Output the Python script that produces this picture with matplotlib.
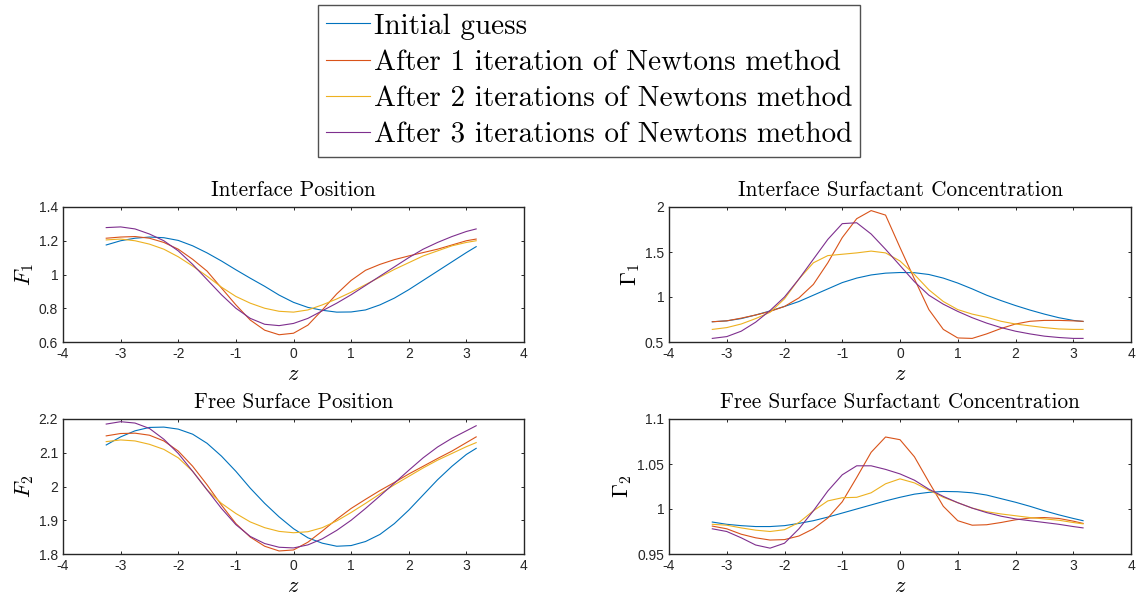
import matplotlib
matplotlib.use("Agg")
import matplotlib.pyplot as plt
from matplotlib.ticker import FormatStrFormatter

plt.rcParams['mathtext.fontset'] = 'cm'
plt.rcParams['axes.unicode_minus'] = False

# grid of z values the curves were read at
z = [-3.25, -3.0, -2.75, -2.5, -2.25, -2.0, -1.75, -1.5, -1.25, -1.0, -0.75, -0.5, -0.25,
     0.0, 0.25, 0.5, 0.75, 1.0, 1.25, 1.5, 1.75, 2.0, 2.25, 2.5, 2.75, 3.0, 3.17]

labels = ['Initial guess',
          'After 1 iteration of Newtons method',
          'After 2 iterations of Newtons method',
          'After 3 iterations of Newtons method']
colors = ['#0072BD', '#D95319', '#EDB120', '#7E2F8E']

# Interface position F1
f1_init = [1.175, 1.20, 1.215, 1.222, 1.218, 1.202, 1.17, 1.128, 1.08, 1.028, 0.978, 0.93, 0.878,
           0.835, 0.805, 0.788, 0.777, 0.778, 0.79, 0.82, 0.86, 0.91, 0.965, 1.02, 1.075, 1.13, 1.165]
f1_it1 = [1.215, 1.222, 1.225, 1.215, 1.19, 1.15, 1.09, 1.02, 0.92, 0.82, 0.73, 0.67, 0.643,
          0.652, 0.70, 0.79, 0.885, 0.965, 1.025, 1.06, 1.088, 1.11, 1.13, 1.15, 1.175, 1.20, 1.21]
f1_it2 = [1.205, 1.21, 1.20, 1.18, 1.15, 1.105, 1.05, 0.99, 0.925, 0.87, 0.83, 0.80, 0.782,
          0.777, 0.79, 0.82, 0.855, 0.895, 0.94, 0.985, 1.03, 1.07, 1.11, 1.14, 1.17, 1.19, 1.20]
f1_it3 = [1.278, 1.282, 1.27, 1.24, 1.20, 1.14, 1.06, 0.97, 0.88, 0.80, 0.74, 0.705, 0.697,
          0.71, 0.74, 0.785, 0.83, 0.88, 0.935, 0.99, 1.045, 1.10, 1.15, 1.19, 1.225, 1.255, 1.27]

# Interface surfactant concentration Gamma1
g1_init = [0.725, 0.735, 0.76, 0.80, 0.845, 0.895, 0.95, 1.02, 1.09, 1.16, 1.21, 1.245, 1.265,
           1.272, 1.27, 1.25, 1.21, 1.155, 1.09, 1.02, 0.96, 0.905, 0.855, 0.81, 0.77, 0.74, 0.728]
g1_it1 = [0.725, 0.735, 0.765, 0.80, 0.84, 0.895, 0.99, 1.14, 1.38, 1.66, 1.87, 1.96, 1.91,
          1.55, 1.20, 0.86, 0.64, 0.545, 0.54, 0.59, 0.65, 0.70, 0.73, 0.74, 0.74, 0.735, 0.73]
g1_it2 = [0.64, 0.66, 0.70, 0.76, 0.83, 0.98, 1.2, 1.38, 1.46, 1.475, 1.49, 1.51, 1.49,
          1.40, 1.25, 1.08, 0.95, 0.86, 0.81, 0.775, 0.73, 0.70, 0.68, 0.66, 0.645, 0.64, 0.64]
g1_it3 = [0.54, 0.56, 0.62, 0.72, 0.85, 1.0, 1.2, 1.42, 1.64, 1.815, 1.825, 1.70, 1.53,
          1.35, 1.17, 1.02, 0.92, 0.84, 0.77, 0.71, 0.66, 0.62, 0.59, 0.565, 0.55, 0.54, 0.54]

# Free surface position F2
f2_init = [2.123, 2.147, 2.165, 2.175, 2.176, 2.17, 2.155, 2.128, 2.09, 2.045, 1.995, 1.95, 1.91,
           1.875, 1.848, 1.832, 1.823, 1.825, 1.837, 1.858, 1.89, 1.93, 1.975, 2.02, 2.06, 2.095, 2.113]
f2_it1 = [2.15, 2.157, 2.158, 2.152, 2.135, 2.105, 2.06, 2.005, 1.945, 1.89, 1.85, 1.823, 1.809,
          1.812, 1.835, 1.868, 1.903, 1.935, 1.962, 1.988, 2.012, 2.037, 2.06, 2.083, 2.105, 2.13, 2.147]
f2_it2 = [2.133, 2.138, 2.135, 2.125, 2.11, 2.085, 2.045, 1.99, 1.95, 1.92, 1.895, 1.878, 1.867,
          1.863, 1.866, 1.878, 1.898, 1.923, 1.95, 1.978, 2.005, 2.03, 2.055, 2.078, 2.098, 2.118, 2.13]
f2_it3 = [2.185, 2.192, 2.188, 2.172, 2.14, 2.098, 2.045, 1.99, 1.935, 1.887, 1.852, 1.831, 1.82,
          1.818, 1.827, 1.845, 1.87, 1.90, 1.935, 1.972, 2.01, 2.048, 2.085, 2.117, 2.143, 2.165, 2.18]

# Free surface surfactant concentration Gamma2
g2_init = [0.9855, 0.983, 0.9815, 0.9805, 0.9805, 0.9815, 0.984, 0.987, 0.991, 0.9955, 1.0, 1.0045, 1.009,
           1.013, 1.0165, 1.0185, 1.0195, 1.0192, 1.018, 1.0155, 1.0115, 1.0075, 1.003, 0.998, 0.9935, 0.9895, 0.987]
g2_it1 = [0.981, 0.978, 0.972, 0.968, 0.9655, 0.966, 0.97, 0.978, 0.99, 1.008, 1.035, 1.063, 1.08,
          1.077, 1.058, 1.03, 1.003, 0.987, 0.982, 0.9825, 0.985, 0.988, 0.99, 0.9905, 0.9895, 0.9865, 0.984]
g2_it2 = [0.983, 0.982, 0.979, 0.9765, 0.975, 0.977, 0.985, 0.998, 1.009, 1.0125, 1.013, 1.018, 1.028,
          1.0335, 1.029, 1.021, 1.013, 1.007, 1.001, 0.997, 0.9945, 0.9925, 0.9905, 0.989, 0.9875, 0.985, 0.9835]
g2_it3 = [0.978, 0.975, 0.968, 0.96, 0.9565, 0.962, 0.978, 0.998, 1.02, 1.038, 1.048, 1.048, 1.044,
          1.039, 1.032, 1.022, 1.014, 1.007, 1.001, 0.996, 0.992, 0.989, 0.987, 0.985, 0.983, 0.9805, 0.979]

panels = [
    ('Interface Position', r'$F_1$', [f1_init, f1_it1, f1_it2, f1_it3], (0.6, 1.4), [0.6, 0.8, 1.0, 1.2, 1.4]),
    ('Interface Surfactant Concentration', r'$\Gamma_1$', [g1_init, g1_it1, g1_it2, g1_it3], (0.5, 2.0), [0.5, 1.0, 1.5, 2.0]),
    ('Free Surface Position', r'$F_2$', [f2_init, f2_it1, f2_it2, f2_it3], (1.8, 2.2), [1.8, 1.9, 2.0, 2.1, 2.2]),
    ('Free Surface Surfactant Concentration', r'$\Gamma_2$', [g2_init, g2_it1, g2_it2, g2_it3], (0.95, 1.1), [0.95, 1.0, 1.05, 1.1]),
]

W, H = 1142, 596
fig = plt.figure(figsize=(W / 100, H / 100), dpi=100)

# axes boxes in pixels: left, top, right, bottom
boxes = [(63, 207, 524, 342), (669, 207, 1131, 342),
         (63, 419, 524, 554), (669, 419, 1131, 554)]

axc = '#262626'
lines = []
for (title, ylab, series, ylim, yticks), (l, t, r, b) in zip(panels, boxes):
    ax = fig.add_axes([l / W, 1 - b / H, (r - l) / W, (b - t) / H])
    for s, c in zip(series, colors):
        ln, = ax.plot(z, s, color=c, linewidth=0.8)
        lines.append(ln)
    ax.set_xlim(-4, 4)
    ax.set_ylim(*ylim)
    ax.set_xticks(range(-4, 5))
    ax.set_yticks(yticks)
    ax.yaxis.set_major_formatter(FormatStrFormatter('%g'))
    ax.tick_params(direction='in', top=True, right=True, length=2.5, width=0.7,
                   color=axc, labelcolor=axc, labelsize=10, pad=3.5)
    for lab in ax.get_xticklabels() + ax.get_yticklabels():
        lab.set_family('Liberation Sans')
    for sp in ax.spines.values():
        sp.set_color(axc)
        sp.set_linewidth(1.0)
    ax.set_title(title, family='cmr10', fontsize=15.3, pad=8)
    ax.set_ylabel(ylab, fontsize=16, labelpad=2)
    ax.set_xlabel(r'$z$', fontsize=16, labelpad=2)

leg = fig.legend(lines[:4], labels, loc='upper center',
                 bbox_to_anchor=(589 / W, 1 - 5 / H), prop={'family': 'cmr10', 'size': 21},
                 frameon=True, fancybox=False, edgecolor='#262626', handlelength=1.5,
                 handletextpad=0.15, borderpad=0.28, labelspacing=0.34, borderaxespad=0)
leg.get_frame().set_linewidth(1.0)

fig.savefig('out.png', dpi=100)
